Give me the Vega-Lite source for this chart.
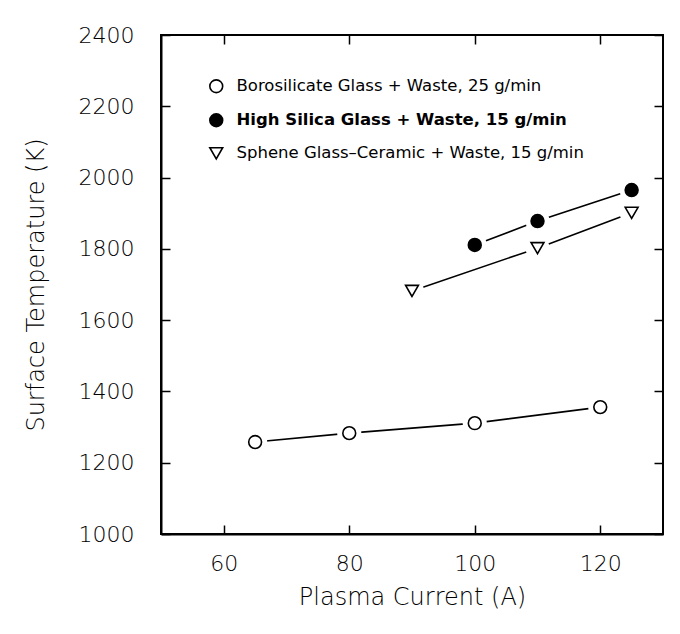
{
  "$schema": "https://vega.github.io/schema/vega-lite/v6.json",
  "width": 502,
  "height": 499,
  "autosize": {"type": "none"},
  "padding": {"left": 161, "top": 35, "right": 17, "bottom": 100},
  "background": "white",
  "config": {
    "view": {"stroke": "black", "strokeWidth": 2},
    "font": "DejaVu Sans",
    "axis": {
      "domainColor": "black",
      "domainWidth": 2,
      "tickColor": "black",
      "tickWidth": 1.5,
      "tickSize": -9,
      "grid": false,
      "labelFont": "DejaVu Sans",
      "labelFontWeight": 200,
      "labelFontSize": 22,
      "labelColor": "black",
      "titleFont": "DejaVu Sans",
      "titleFontWeight": 200,
      "titleFontSize": 24,
      "titleColor": "black"
    },
    "legend": {
      "title": null,
      "orient": "none",
      "legendX": 43,
      "legendY": 43,
      "rowPadding": 14,
      "symbolSize": 165,
      "symbolStrokeWidth": 1.6,
      "symbolOffset": 4,
      "labelFont": "DejaVu Sans",
      "labelFontSize": 16.5,
      "labelColor": "black",
      "labelOffset": 12,
      "labelLimit": 0
    }
  },
  "data": {
    "values": [
      {"series": "Borosilicate Glass + Waste, 25 g/min", "current": 65, "temp": 1258},
      {"series": "Borosilicate Glass + Waste, 25 g/min", "current": 80, "temp": 1283},
      {"series": "Borosilicate Glass + Waste, 25 g/min", "current": 100, "temp": 1311},
      {"series": "Borosilicate Glass + Waste, 25 g/min", "current": 120, "temp": 1356},
      {"series": "High Silica Glass + Waste, 15 g/min", "current": 100, "temp": 1811},
      {"series": "High Silica Glass + Waste, 15 g/min", "current": 110, "temp": 1878},
      {"series": "High Silica Glass + Waste, 15 g/min", "current": 125, "temp": 1965},
      {"series": "Sphene Glass\u2013Ceramic + Waste, 15 g/min", "current": 90, "temp": 1682},
      {"series": "Sphene Glass\u2013Ceramic + Waste, 15 g/min", "current": 110, "temp": 1802},
      {"series": "Sphene Glass\u2013Ceramic + Waste, 15 g/min", "current": 125, "temp": 1901}
    ]
  },
  "layer": [
    {
      "mark": {"type": "line", "color": "black", "strokeWidth": 1.6},
      "encoding": {
        "x": {"field": "current", "type": "quantitative", "scale": {"domain": [50, 130], "nice": false, "zero": false},
              "axis": {"orient": "bottom", "values": [60, 80, 100, 120], "format": "d", "title": "Plasma Current (A)", "labelPadding": 28, "titlePadding": 11, "labelColor": "black", "titleColor": "black"}},
        "y": {"field": "temp", "type": "quantitative", "scale": {"domain": [1000, 2400], "nice": false, "zero": false},
              "axis": {"orient": "left", "values": [1000, 1200, 1400, 1600, 1800, 2000, 2200, 2400], "format": "d", "title": "Surface Temperature (K)", "labelPadding": 36, "titlePadding": 30, "labelColor": "black", "titleColor": "black"}},
        "detail": {"field": "series"},
        "order": {"field": "current"}
      }
    },
    {
      "mark": {"type": "point", "shape": "circle", "filled": true, "fill": "white", "opacity": 1, "size": 580},
      "encoding": {
        "x": {"field": "current", "type": "quantitative", "axis": {"orient": "top", "values": [60, 80, 100, 120], "labels": false, "title": null, "domain": false}},
        "y": {"field": "temp", "type": "quantitative", "axis": {"orient": "right", "values": [1000, 1200, 1400, 1600, 1800, 2000, 2200, 2400], "labels": false, "title": null, "domain": false}}
      }
    },
    {
      "mark": {"type": "point", "strokeWidth": 1.6, "opacity": 1, "size": 165},
      "encoding": {
        "x": {"field": "current", "type": "quantitative", "axis": null},
        "y": {"field": "temp", "type": "quantitative", "axis": null},
        "shape": {
          "field": "series", "type": "nominal",
          "scale": {
            "domain": ["Borosilicate Glass + Waste, 25 g/min", "High Silica Glass + Waste, 15 g/min", "Sphene Glass\u2013Ceramic + Waste, 15 g/min"],
            "range": ["circle", "circle", "triangle-down"]
          },
          "legend": {
            "labelFontWeight": {"expr": "indexof(datum.label, 'High Silica') >= 0 ? 'bold' : 'normal'"}
          }
        },
        "fill": {
          "field": "series", "type": "nominal",
          "scale": {
            "domain": ["Borosilicate Glass + Waste, 25 g/min", "High Silica Glass + Waste, 15 g/min", "Sphene Glass\u2013Ceramic + Waste, 15 g/min"],
            "range": ["white", "black", "white"]
          },
          "legend": {
            "labelFontWeight": {"expr": "indexof(datum.label, 'High Silica') >= 0 ? 'bold' : 'normal'"}
          }
        },
        "stroke": {
          "field": "series", "type": "nominal",
          "scale": {
            "domain": ["Borosilicate Glass + Waste, 25 g/min", "High Silica Glass + Waste, 15 g/min", "Sphene Glass\u2013Ceramic + Waste, 15 g/min"],
            "range": ["black", "black", "black"]
          },
          "legend": {
            "labelFontWeight": {"expr": "indexof(datum.label, 'High Silica') >= 0 ? 'bold' : 'normal'"}
          }
        }
      }
    }
  ],
  "resolve": {"axis": {"x": "independent", "y": "independent"}}
}
